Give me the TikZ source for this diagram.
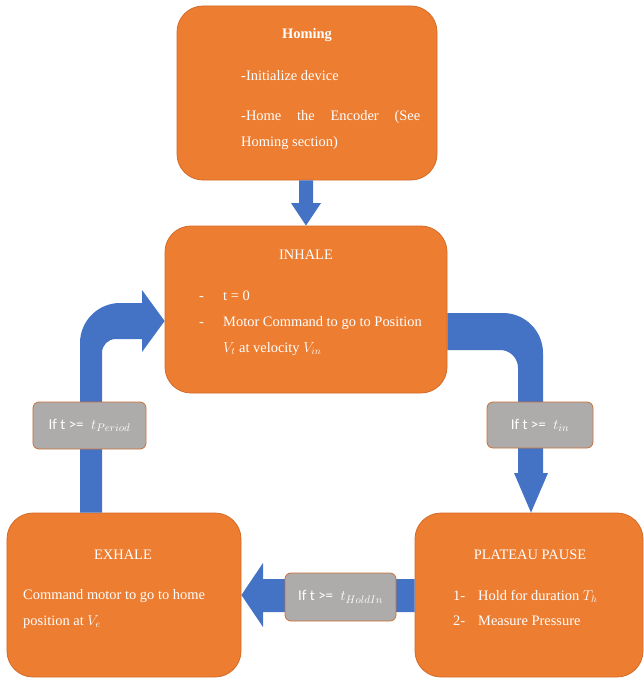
\documentclass[tikz,border=0pt]{standalone}
\usepackage{fontspec}
\setmainfont{Liberation Serif}
\newfontfamily\labelfont{Carlito}
\usepackage{tikz}
\definecolor{boxorange}{HTML}{ED7D31}
\definecolor{boxedge}{HTML}{D46A26}
\definecolor{flowblue}{HTML}{4472C4}
\definecolor{condgray}{HTML}{AEABAB}
\definecolor{condedge}{HTML}{C8713A}

\begin{document}
\begin{tikzpicture}[x=1bp,y=-1bp,
    statebox/.style={draw=boxedge,line width=0.8bp,fill=boxorange,rounded corners=26bp,inner sep=0pt},
    condbox/.style={draw=condedge,line width=0.8bp,fill=condgray,rounded corners=6bp,inner sep=0pt,
        text=white,font=\labelfont\fontsize{15}{18}\selectfont},
    boxtext/.style={text=white,inner sep=0pt,font=\fontsize{14.5}{26}\selectfont},
    flowarrow/.style={fill=flowblue}]
                \useasboundingbox (0,0) rectangle (644,679);
                \node[statebox,minimum width=260bp,minimum height=174bp] (homing) at (307,93) {};
                \node[statebox,minimum width=282bp,minimum height=167bp] (inhale) at (306,309.5) {};
                \node[statebox,minimum width=234bp,minimum height=164bp] (exhale) at (124,595) {};
                \node[statebox,minimum width=228bp,minimum height=164bp] (plateau) at (529,595) {};
                \node[boxtext] (homingtitle) at (307,35) {\bfseries Homing};
                \node[boxtext,anchor=west] (hominginit) at (241,76) {-Initialize device};
                \node[boxtext,anchor=west,align=left] (homingenc) at (241,130)
                    {\makebox[179bp][s]{-Home the Encoder (See}\\Homing section)};
                \node[boxtext] (inhaletitle) at (306,255) {INHALE};
                \node[boxtext,anchor=west,align=left] (inhalebody) at (199,323)
                    {\makebox[24bp][l]{-}t = 0\\
                     \makebox[24bp][l]{-}Motor Command to go to Position\\
                     \hspace*{24bp}$V_t$ at velocity $V_{in}$};
                \node[boxtext] (exhaletitle) at (123,555) {EXHALE};
                \node[boxtext,anchor=west,align=left] (exhalebody) at (23,609)
                    {Command motor to go to home\\position at $V_e$};
                \node[boxtext] (plateautitle) at (530,555) {PLATEAU PAUSE};
                \node[boxtext,anchor=west,align=left] (plateaubody) at (453,608)
                    {\makebox[25bp][l]{1-}Hold for duration $T_h$\\
                     \makebox[25bp][l]{2-}Measure Pressure};
                \fill[flowarrow] (homing.south -| 299,0) -- (299,203) -- (291,203) -- (inhale.north)
                    -- (321,203) -- (313,203) -- (homing.south -| 313,0) -- cycle;
                \fill[flowarrow] (inhale.east |- 0,313) -- (503,313) .. controls (525,313) and (543,331) .. (543,353)
                    -- (543,473) -- (548,473) -- (plateau.north -| 531,0) -- (514,473) -- (518,473)
                    -- (518,368) .. controls (518,358) and (510,350) .. (500,350) -- (inhale.east |- 0,350) -- cycle;
                \fill[flowarrow] (plateau.west |- 0,579) -- (263,579) -- (263,563) -- (exhale.east |- 0,595)
                    -- (263,627) -- (263,612) -- (plateau.west |- 0,612) -- cycle;
                \fill[flowarrow] (exhale.north -| 80,0) -- (80,343) .. controls (80,321) and (98,303) .. (120,303)
                    -- (142,303) -- (142,290) -- (inhale.west |- 0,321) -- (142,352) -- (142,339)
                    -- (116,339) .. controls (108,339) and (102,345) .. (102,353) -- (exhale.north -| 102,0) -- cycle;
                \node[condbox,minimum width=113bp,minimum height=47bp] (condperiod) at (89.5,425.5) {If t >=\; $t_{Period}$};
                \node[condbox,minimum width=106bp,minimum height=46bp] (condin) at (540,425) {If t >=\; $t_{in}$};
                \node[condbox,minimum width=111bp,minimum height=48bp] (condhold) at (340.5,597) {If t >=\; $t_{HoldIn}$};
            \end{tikzpicture}
\end{document}
